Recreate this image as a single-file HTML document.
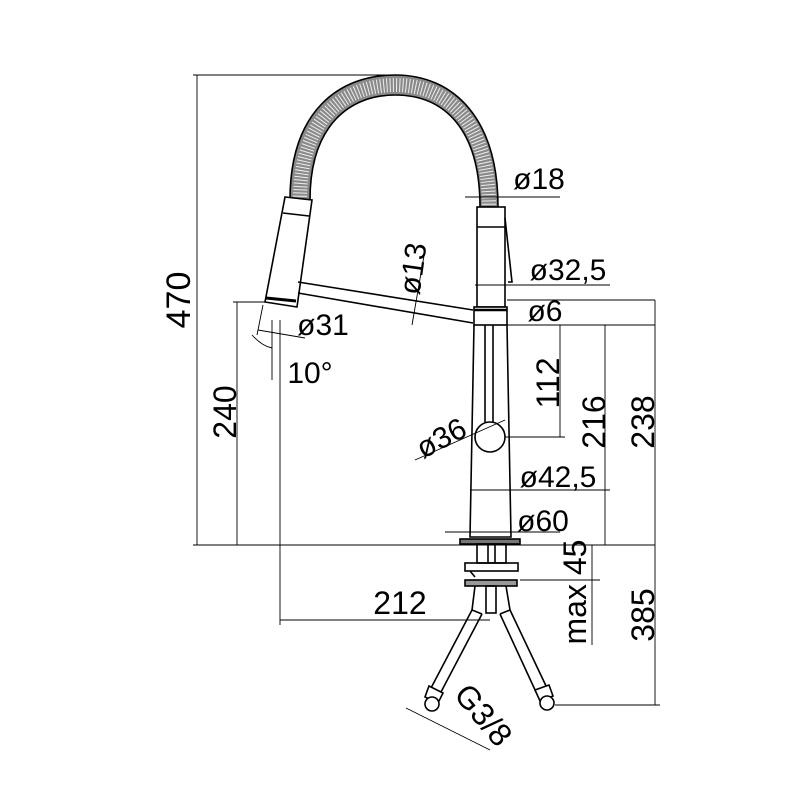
<!DOCTYPE html>
<html><head><meta charset="utf-8"><style>html,body{margin:0;background:#fff}svg{display:block}</style></head><body>
<svg width="800" height="800" viewBox="0 0 800 800" xmlns="http://www.w3.org/2000/svg" font-family="Liberation Sans, sans-serif">
<g fill="none" stroke="#000" stroke-width="1.6">
<!-- hose -->
<path d="M290 200 C290 110 340 75 395 75 C455 75 498 120 498 207 L480 207 C480 130 445 95 395 95 C350 95 310 125 310 200 Z" fill="#8a8a8a" stroke="#000"/>
<path d="M300 200 C300 118 345 85 395 85 C450 85 489 125 489 207" stroke="#eee" stroke-width="14" stroke-dasharray="1 2.2" />
<!-- head -->
<path d="M285 197 L312 200 L297 307 L265 302 Z" fill="#fff"/>
<line x1="283" y1="213" x2="309" y2="216"/>
<line x1="266" y1="298" x2="296" y2="301" stroke-width="3"/>
<!-- spout arm -->
<line x1="298" y1="282" x2="473" y2="310"/>
<line x1="298" y1="293" x2="473" y2="323"/>
<!-- right body -->
<rect x="477" y="207" width="28" height="100" fill="#fff"/>
<line x1="477" y1="227" x2="505" y2="227"/>
<path d="M505 218 L512 282 L508 282"/>
<rect x="474" y="307" width="33" height="18" fill="#fff"/>
<line x1="474" y1="310" x2="507" y2="310" stroke-width="2.5"/>
<path d="M474 325 L470 537 L511 537 L507 325"/>
<line x1="485" y1="325" x2="485" y2="422"/>
<line x1="493" y1="325" x2="493" y2="422"/>
<circle cx="490" cy="437" r="15" fill="#fff"/>
<!-- base -->
<rect x="460" y="539" width="60" height="5" fill="#777"/>
<rect x="477" y="544" width="29" height="19"/>
<line x1="488" y1="544" x2="488" y2="563"/><line x1="495" y1="544" x2="495" y2="563"/>
<rect x="465" y="563" width="53" height="8"/>
<line x1="470" y1="571" x2="475" y2="577"/>
<rect x="465" y="580" width="52" height="6" fill="#999"/>
<path d="M475 586 L472 610 L482 614 M506 586 L510 610 L500 614"/>
<rect x="486" y="586" width="10" height="27"/>
<!-- hoses -->
<path d="M472 610 L431 688 M482 614 L441 692"/>
<path d="M500 614 L536 692 M510 610 L547 688"/>
<path d="M429 686 L443 693 L438 703 L425 697 Z" fill="#fff"/>
<circle cx="432" cy="704" r="7" fill="#fff"/>
<path d="M535 690 L549 685 L553 696 L540 701 Z" fill="#fff"/>
<circle cx="547" cy="703" r="7" fill="#fff"/>
</g>
<g fill="none" stroke="#000" stroke-width="0.9">
<line x1="193" y1="75" x2="400" y2="75"/><line x1="197" y1="75" x2="197" y2="545"/>
<line x1="193" y1="545" x2="655" y2="545"/>
<line x1="233" y1="302" x2="265" y2="302"/><line x1="237" y1="302" x2="237" y2="545"/>
<line x1="280" y1="320" x2="280" y2="625"/><line x1="280" y1="620" x2="490" y2="620"/>
<line x1="263" y1="305" x2="257" y2="335"/><line x1="272" y1="320" x2="272" y2="380"/>
<path d="M252 335 Q262 346 272 348"/>
<line x1="258" y1="330" x2="305" y2="338"/>
<line x1="425" y1="250" x2="412" y2="325"/>
<line x1="465" y1="197" x2="560" y2="197"/>
<line x1="475" y1="285" x2="610" y2="285"/>
<line x1="475" y1="325" x2="655" y2="325"/>
<line x1="507" y1="300" x2="655" y2="300"/>
<line x1="560" y1="325" x2="560" y2="437"/>
<line x1="505" y1="437" x2="565" y2="437"/>
<line x1="605" y1="325" x2="605" y2="545"/>
<line x1="655" y1="300" x2="655" y2="705"/>
<line x1="415" y1="460" x2="505" y2="420"/>
<line x1="470" y1="490" x2="610" y2="490"/>
<line x1="445" y1="532" x2="560" y2="532"/>
<line x1="520" y1="580" x2="600" y2="580"/>
<line x1="592" y1="545" x2="592" y2="645"/>
<line x1="555" y1="705" x2="660" y2="705"/>
<line x1="406" y1="708" x2="490" y2="750"/>
</g>
<g font-size="30" fill="#000" text-anchor="middle">
<text transform="translate(190 300) rotate(-90)" font-size="34">470</text>
<text transform="translate(236 412) rotate(-90)" font-size="32">240</text>
<text x="323" y="335">ø31</text>
<text x="310" y="383">10°</text>
<text transform="translate(423 270) rotate(-82)">ø13</text>
<text x="539" y="189">ø18</text>
<text x="568" y="280">ø32,5</text>
<text x="545" y="321">ø6</text>
<text transform="translate(559 383) rotate(-90)" font-size="32">112</text>
<text transform="translate(605 422) rotate(-90)" font-size="32">216</text>
<text transform="translate(654 422) rotate(-90)" font-size="32">238</text>
<text transform="translate(446 447) rotate(-28)">ø36</text>
<text x="558" y="487">ø42,5</text>
<text x="543" y="531">ø60</text>
<text x="400" y="614" font-size="32">212</text>
<text transform="translate(586 592) rotate(-90)" font-size="32">max 45</text>
<text transform="translate(654 615) rotate(-90)" font-size="32">385</text>
<text transform="translate(475 722) rotate(50)" font-size="32">G3/8</text>
</g>
</svg>
</body></html>
